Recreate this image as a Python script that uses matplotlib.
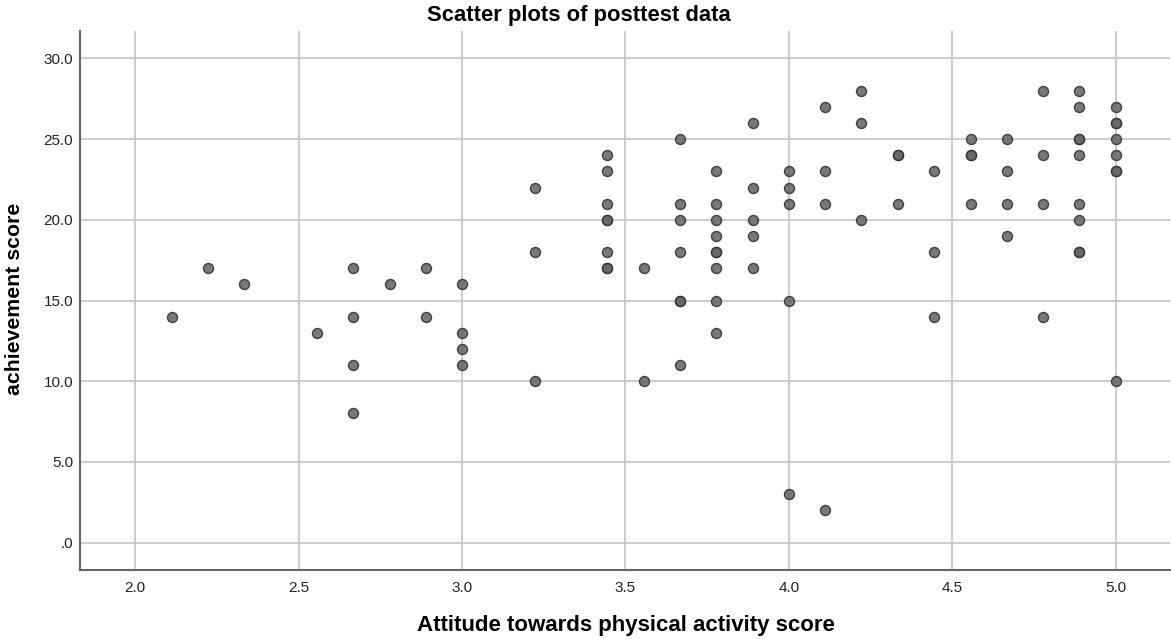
import matplotlib
matplotlib.use("Agg")
import matplotlib.pyplot as plt
import numpy as np

plt.rcParams['font.family'] = ['Liberation Sans', 'DejaVu Sans']

# attitude score levels (ninths) and achievement scores at each level
attitude_levels = [2.111, 2.222, 2.333, 2.556, 2.667, 2.778, 2.889, 3.0,
                   3.222, 3.444, 3.556, 3.667, 3.778, 3.889, 4.0, 4.111,
                   4.222, 4.333, 4.444, 4.556, 4.667, 4.778, 4.889, 5.0]
achievement_at_level = [
    [14],
    [17],
    [16],
    [13],
    [17, 14, 11, 8],
    [16],
    [17, 14],
    [16, 13, 12, 11],
    [22, 18, 10],
    [24, 23, 21, 20, 20, 18, 17, 17],
    [17, 10],
    [25, 21, 20, 18, 15, 15, 11],
    [23, 21, 20, 19, 18, 18, 17, 15, 13],
    [26, 22, 20, 19, 17],
    [23, 22, 21, 15, 3],
    [27, 23, 21, 2],
    [28, 26, 20],
    [24, 24, 21],
    [23, 18, 14],
    [25, 24, 24, 21],
    [25, 23, 21, 19],
    [28, 24, 21, 14],
    [28, 27, 25, 25, 24, 21, 20, 18, 18],
    [27, 26, 26, 25, 24, 23, 23, 10],
]

x_ticks = [2.0, 2.5, 3.0, 3.5, 4.0, 4.5, 5.0]
x_tick_labels = ["2.0", "2.5", "3.0", "3.5", "4.0", "4.5", "5.0"]
y_ticks = [0, 5, 10, 15, 20, 25, 30]
y_tick_labels = [".0", "5.0", "10.0", "15.0", "20.0", "25.0", "30.0"]

xs = []
ys = []
for lv, vals in zip(attitude_levels, achievement_at_level):
    for v in vals:
        xs.append(lv)
        ys.append(v)

fig = plt.figure(figsize=(11.71, 6.39), dpi=100)
ax = fig.add_axes([80 / 1171, 1 - 570 / 639, (1170 - 80) / 1171, (570 - 31) / 639])

ax.set_xlim(1.831, 5.166)
ax.set_ylim(-1.70, 31.70)

ax.grid(True, color='#c8c8c8', linewidth=1.3, zorder=0)
ax.set_axisbelow(True)

ax.scatter(xs, ys, s=52, facecolor='#666666', edgecolor='#303030',
           linewidths=1.0, alpha=0.88, zorder=3)

ax.set_xticks(x_ticks)
ax.set_xticklabels(x_tick_labels)
ax.set_yticks(y_ticks)
ax.set_yticklabels(y_tick_labels)
ax.tick_params(axis='x', length=0, labelsize=11, colors='#222222', pad=8)
ax.tick_params(axis='y', length=0, labelsize=11, colors='#222222', pad=5)

for side in ['top', 'right']:
    ax.spines[side].set_visible(False)
for side in ['left', 'bottom']:
    ax.spines[side].set_color('#666666')
    ax.spines[side].set_linewidth(1.5)

fig.text(579 / 1171, 1 - 15 / 639, "Scatter plots of posttest data",
         ha='center', va='center', fontsize=15.8, fontweight='bold')
fig.text(626 / 1171, 1 - 626 / 639, "Attitude towards physical activity score",
         ha='center', va='center', fontsize=16, fontweight='bold')
fig.text(15 / 1171, 1 - 299 / 639, "achievement score",
         ha='center', va='center', rotation=90, fontsize=15.3, fontweight='bold')

fig.savefig("out.png", dpi=100)
